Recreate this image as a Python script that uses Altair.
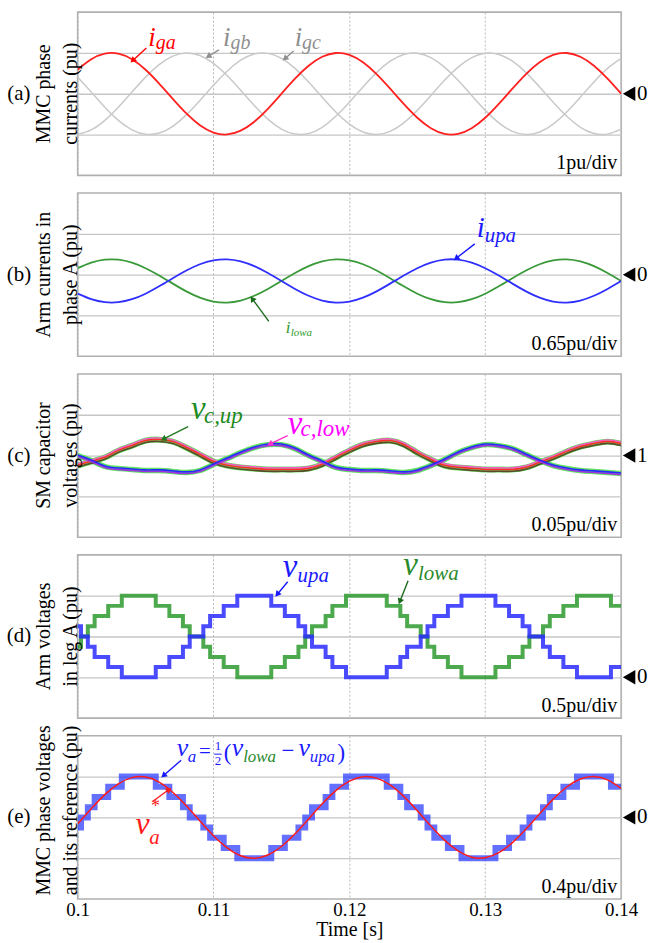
import altair as alt
import pandas as pd

SERIF = "Liberation Serif"
W, H = 546, 164

# sampling instants (s)
t_1ms = [round(0.100 + 0.001 * k, 4) for k in range(41)]
t_05ms = [round(0.100 + 0.0005 * k, 5) for k in range(81)]

# (a) MMC phase currents, pu
i_ga = [0.588, 0.844, 0.982, 0.982, 0.844, 0.588, 0.249, -0.125, -0.482, -0.771, -0.951,
        -0.998, -0.905, -0.685, -0.368, 0.0, 0.368, 0.685, 0.905, 0.998, 0.951, 0.771,
        0.482, 0.125, -0.249, -0.588, -0.844, -0.982, -0.982, -0.844, -0.588, -0.249,
        0.125, 0.482, 0.771, 0.951, 0.998, 0.905, 0.685, 0.368, 0.0]
i_gb = [-0.995, -0.886, -0.653, -0.329, 0.042, 0.407, 0.714, 0.922, 1.0, 0.937, 0.743,
        0.445, 0.084, -0.289, -0.621, -0.866, -0.989, -0.974, -0.821, -0.553, -0.208,
        0.167, 0.518, 0.797, 0.963, 0.995, 0.886, 0.653, 0.329, -0.042, -0.407, -0.714,
        -0.922, -1.0, -0.937, -0.743, -0.445, -0.084, 0.289, 0.621, 0.866]
i_gc = [0.407, 0.042, -0.329, -0.653, -0.886, -0.995, -0.963, -0.797, -0.518, -0.166,
        0.208, 0.553, 0.821, 0.974, 0.989, 0.866, 0.621, 0.289, -0.084, -0.445, -0.743,
        -0.938, -1.0, -0.922, -0.714, -0.407, -0.042, 0.329, 0.653, 0.886, 0.995, 0.963,
        0.797, 0.518, 0.166, -0.208, -0.553, -0.821, -0.974, -0.989, -0.866]

# (b) arm currents in phase A, pu
i_upa = [-0.303, -0.391, -0.439, -0.439, -0.391, -0.303, -0.186, -0.057, 0.066, 0.166,
         0.228, 0.244, 0.212, 0.136, 0.027, -0.100, -0.227, -0.336, -0.412, -0.444,
         -0.428, -0.366, -0.266, -0.143, -0.014, 0.103, 0.191, 0.239, 0.239, 0.191,
         0.103, -0.014, -0.143, -0.266, -0.366, -0.428, -0.444, -0.412, -0.336, -0.227,
         -0.100]
i_lowa = [0.103, 0.191, 0.239, 0.239, 0.191, 0.103, -0.014, -0.143, -0.266, -0.366,
          -0.428, -0.444, -0.412, -0.336, -0.227, -0.100, 0.027, 0.136, 0.212, 0.244,
          0.228, 0.166, 0.066, -0.057, -0.186, -0.303, -0.391, -0.439, -0.439, -0.391,
          -0.303, -0.186, -0.057, 0.066, 0.166, 0.228, 0.244, 0.212, 0.136, 0.027,
          -0.100]

# (c) SM capacitor voltages, pu
vc_up = [0.9878, 0.9927, 0.9976, 1.0061, 1.0122, 1.0183, 1.0195, 1.0171, 1.0098, 1.0012,
         0.9927, 0.9878, 0.9854, 0.9841, 0.9829, 0.9829, 0.9829, 0.9841, 0.9890, 0.9976,
         1.0061, 1.0134, 1.0171, 1.0183, 1.0134, 1.0037, 0.9951, 0.9878, 0.9854, 0.9841,
         0.9829, 0.9829, 0.9829, 0.9854, 0.9915, 0.9976, 1.0049, 1.0110, 1.0146, 1.0171,
         1.0146]
vc_low = [1.0000, 0.9939, 0.9866, 0.9841, 0.9829, 0.9817, 0.9817, 0.9805, 0.9793, 0.9817,
          0.9890, 0.9963, 1.0037, 1.0098, 1.0134, 1.0134, 1.0085, 1.0000, 0.9927, 0.9854,
          0.9829, 0.9817, 0.9817, 0.9805, 0.9793, 0.9817, 0.9878, 0.9951, 1.0037, 1.0098,
          1.0134, 1.0122, 1.0085, 1.0012, 0.9939, 0.9878, 0.9841, 0.9817, 0.9805, 0.9793,
          0.9780]

# (d) arm voltages in leg A, pu (staircase, 0.5 ms samples)
v_upa = [0.625, 0.5, 0.375, 0.25, 0.25, 0.125, 0.125, 0, 0, 0, 0, 0, 0.125, 0.125, 0.25,
         0.25, 0.375, 0.5, 0.5, 0.625, 0.75, 0.75, 0.875, 0.875, 1, 1, 1, 1, 1, 0.875,
         0.875, 0.75, 0.75, 0.625, 0.5, 0.375, 0.375, 0.25, 0.125, 0.125, 0, 0, 0, 0, 0,
         0, 0.125, 0.125, 0.25, 0.375, 0.375, 0.5, 0.625, 0.75, 0.75, 0.875, 0.875, 1, 1,
         1, 1, 1, 0.875, 0.875, 0.75, 0.75, 0.625, 0.5, 0.5, 0.375, 0.25, 0.25, 0.125,
         0.125, 0, 0, 0, 0, 0, 0.125, 0.125]
v_lowa = [0.375, 0.5, 0.625, 0.75, 0.75, 0.875, 0.875, 1, 1, 1, 1, 1, 0.875, 0.875, 0.75,
          0.75, 0.625, 0.5, 0.5, 0.375, 0.25, 0.25, 0.125, 0.125, 0, 0, 0, 0, 0, 0.125,
          0.125, 0.25, 0.25, 0.375, 0.5, 0.625, 0.625, 0.75, 0.875, 0.875, 1, 1, 1, 1, 1,
          1, 0.875, 0.875, 0.75, 0.625, 0.625, 0.5, 0.375, 0.25, 0.25, 0.125, 0.125, 0,
          0, 0, 0, 0, 0.125, 0.125, 0.25, 0.25, 0.375, 0.5, 0.5, 0.625, 0.75, 0.75, 0.875,
          0.875, 1, 1, 1, 1, 1, 0.875, 0.875]

# (e) phase voltage (staircase) and its reference, pu
v_a = [-0.1, 0, 0.1, 0.2, 0.2, 0.3, 0.3, 0.4, 0.4, 0.4, 0.4, 0.4, 0.3, 0.3, 0.2, 0.2, 0.1,
       0, 0, -0.1, -0.2, -0.2, -0.3, -0.3, -0.4, -0.4, -0.4, -0.4, -0.4, -0.3, -0.3, -0.2,
       -0.2, -0.1, 0, 0.1, 0.1, 0.2, 0.3, 0.3, 0.4, 0.4, 0.4, 0.4, 0.4, 0.4, 0.3, 0.3, 0.2,
       0.1, 0.1, 0, -0.1, -0.2, -0.2, -0.3, -0.3, -0.4, -0.4, -0.4, -0.4, -0.4, -0.3, -0.3,
       -0.2, -0.2, -0.1, 0, 0, 0.1, 0.2, 0.2, 0.3, 0.3, 0.4, 0.4, 0.4, 0.4, 0.4, 0.3, 0.3]
v_a_ref = [-0.065, 0.085, 0.223, 0.329, 0.390, 0.395, 0.346, 0.247, 0.114, -0.035, -0.179,
           -0.298, -0.376, -0.400, -0.368, -0.285, -0.161, -0.015, 0.133, 0.263, 0.355,
           0.398, 0.385, 0.318, 0.206, 0.065, -0.085, -0.223, -0.329, -0.390, -0.395,
           -0.346, -0.247, -0.114, 0.035, 0.179, 0.298, 0.376, 0.400, 0.368, 0.285]


def x_enc(show):
    kw = dict(values=[0.1, 0.11, 0.12, 0.13, 0.14], grid=True, gridDash=[2, 2],
              gridColor="#b8b8b8", gridWidth=1, ticks=False, domain=False)
    if show:
        kw.update(labels=True, title="Time [s]", format="~g", labelFont=SERIF,
                  labelFontSize=19, labelColor="black", labelPadding=2,
                  labelFlush=False, labelOverlap=False, titleFont=SERIF,
                  titleFontSize=20, titleFontWeight="normal", titleColor="black",
                  titlePadding=0)
    else:
        kw.update(labels=False, title=None)
    return alt.X("t:Q", scale=alt.Scale(domain=[0.1, 0.14], nice=False, zero=False),
                 axis=alt.Axis(**kw))


def y_enc(domain, grid_values):
    return alt.Y("v:Q", scale=alt.Scale(domain=domain, nice=False, zero=False),
                 axis=alt.Axis(values=grid_values, grid=True, gridColor="#c6c6c6",
                               gridWidth=1.3, ticks=False, domain=False, labels=False,
                               title=None))


def trace(X, Y, times, vals, color, width=1.6, interp="natural", opacity=1.0, yoff=0):
    kw = dict(color=color, strokeWidth=width, interpolate=interp, opacity=opacity,
              clip=True)
    if yoff:
        kw["yOffset"] = yoff
    df = pd.DataFrame({"t": times, "v": vals})
    return alt.Chart(df).mark_line(**kw).encode(x=X, y=Y)


def word(X, Y, t, v, s, color, size, italic=True):
    df = pd.DataFrame({"t": [t], "v": [v], "s": [s]})
    kw = dict(align="left", baseline="alphabetic", font=SERIF, fontSize=size, color=color)
    if italic:
        kw["fontStyle"] = "italic"
    return alt.Chart(df).mark_text(**kw).encode(x=X, y=Y, text="s:N")


def arrow(X, Y, t1, v1, t2, v2, color, angle):
    df = pd.DataFrame({"t": [t1], "v": [v1], "t2": [t2], "v2": [v2]})
    body = alt.Chart(df).mark_rule(color=color, strokeWidth=1.4).encode(
        x=X, y=Y, x2="t2:Q", y2="v2:Q")
    head = alt.Chart(pd.DataFrame({"t": [t2], "v": [v2]})).mark_point(
        shape="triangle", filled=True, color=color, size=45, angle=angle, opacity=1
    ).encode(x=X, y=Y)
    return [body, head]


def frame_texts(Y, tag, title1, title2, mid, marker, scale_text, title_shift=0):
    out = []
    one = pd.DataFrame({"v": [mid]})
    out.append(alt.Chart(one).mark_text(font=SERIF, fontSize=21, align="center",
                                        baseline="middle", color="black").encode(
        x=alt.value(-59), y=Y, text=alt.value(tag)))
    for xpos, txt in ((-34, title1), (-7, title2)):
        out.append(alt.Chart(one).mark_text(font=SERIF, fontSize=20, align="center",
                                            baseline="middle", angle=270,
                                            color="black").encode(
            x=alt.value(xpos), y=alt.value(H / 2 + title_shift), text=alt.value(txt)))
    ref = pd.DataFrame({"v": [marker[0]]})
    out.append(alt.Chart(ref).mark_point(shape="triangle-left", filled=True,
                                         color="black", size=210, opacity=1).encode(
        x=alt.value(W + 8), y=Y))
    out.append(alt.Chart(ref).mark_text(font=SERIF, fontSize=21, align="left",
                                        baseline="middle", color="black").encode(
        x=alt.value(W + 16), y=Y, text=alt.value(marker[1])))
    out.append(alt.Chart(one).mark_text(font=SERIF, fontSize=20, align="right",
                                        baseline="alphabetic", color="black").encode(
        x=alt.value(W - 4), y=alt.value(H - 6), text=alt.value(scale_text)))
    return out


# ---------- (a) phase currents ----------
Xa, Ya = x_enc(False), y_enc([-2, 2], [-1, 0, 1])
GRAY = "#c9c9c9"
LGRAY = "#8f8f8f"
red = "#ff2020"
layers_a = [
    trace(Xa, Ya, t_1ms, i_gb, GRAY, 1.5),
    trace(Xa, Ya, t_1ms, i_gc, GRAY, 1.5),
    trace(Xa, Ya, t_1ms, i_ga, red, 1.8),
    word(Xa, Ya, 0.10520, 1.171, "i", "#ff0000", 27),
    word(Xa, Ya, 0.10575, 1.090, "ga", "#ff0000", 20),
    word(Xa, Ya, 0.11070, 1.171, "i", LGRAY, 27),
    word(Xa, Ya, 0.11125, 1.090, "gb", LGRAY, 20),
    word(Xa, Ya, 0.11597, 1.171, "i", LGRAY, 27),
    word(Xa, Ya, 0.11652, 1.090, "gc", LGRAY, 20),
]
layers_a += arrow(Xa, Ya, 0.10506, 1.122, 0.10410, 0.829, "#ff0000", 227)
layers_a += arrow(Xa, Ya, 0.11040, 1.073, 0.10967, 0.927, LGRAY, 239)
layers_a += arrow(Xa, Ya, 0.11590, 1.049, 0.11531, 0.878, LGRAY, 229)
layers_a += frame_texts(Ya, "(a)", "MMC phase", "currents (pu)", 0, (0, "0"), "1pu/div")
panel_a = alt.layer(*layers_a).properties(width=W, height=H)

# ---------- (b) arm currents ----------
Xb, Yb = x_enc(False), y_enc([-1.3, 1.3], [-0.65, 0, 0.65])
BLUE = "#2f2fff"
GREEN = "#3a9a3a"
layers_b = [
    trace(Xb, Yb, t_1ms, i_lowa, GREEN, 1.8),
    trace(Xb, Yb, t_1ms, i_upa, BLUE, 1.8),
    word(Xb, Yb, 0.12938, 0.602, "i", "#1a1aff", 29),
    word(Xb, Yb, 0.12996, 0.520, "upa", "#1a1aff", 21),
    word(Xb, Yb, 0.11531, -0.935, "i", "#2a9a2a", 17),
    word(Xb, Yb, 0.11568, -0.983, "lowa", "#2a9a2a", 11),
]
layers_b += arrow(Xb, Yb, 0.12923, 0.491, 0.12791, 0.269, "#1a1aff", 232)
layers_b += arrow(Xb, Yb, 0.11407, -0.745, 0.11289, -0.396, "#1a6a1a", 324)
layers_b += frame_texts(Yb, "(b)", "Arm currents in", "phase A (pu)", 0, (0, "0"),
                        "0.65pu/div")
panel_b = alt.layer(*layers_b).properties(width=W, height=H)

# ---------- (c) SM capacitor voltages ----------
Xc, Yc = x_enc(False), y_enc([0.9, 1.1], [0.95, 1.0, 1.05])
HALO = "#4fe04f"
layers_c = [
    trace(Xc, Yc, t_1ms, vc_low, HALO, 5.5, opacity=0.9),
    trace(Xc, Yc, t_1ms, vc_up, HALO, 6, opacity=0.9),
    trace(Xc, Yc, t_1ms, vc_up, "#5a4a2a", 1.6, yoff=1.8),
    trace(Xc, Yc, t_1ms, vc_up, "#ff2a2a", 1.6, yoff=-0.2),
    trace(Xc, Yc, t_1ms, vc_up, "#ff55cc", 1.3, yoff=-1.8),
    trace(Xc, Yc, t_1ms, vc_low, "#a030e0", 1.6, yoff=1.0),
    trace(Xc, Yc, t_1ms, vc_low, "#2828ff", 1.6, yoff=-0.6),
    word(Xc, Yc, 0.10835, 1.0451, "v", "#1e8c1e", 33),
    word(Xc, Yc, 0.10930, 1.0395, "c,up", "#1e8c1e", 23),
    word(Xc, Yc, 0.11546, 1.0268, "v", "#ff00ff", 33),
    word(Xc, Yc, 0.11641, 1.0235, "c,low", "#ff00ff", 23),
]
layers_c += arrow(Xc, Yc, 0.10813, 1.0354, 0.10637, 1.0207, "#1e7a1e", 243)
layers_c += arrow(Xc, Yc, 0.11546, 1.0244, 0.11421, 1.0146, "#ff33cc", 245)
layers_c += frame_texts(Yc, "(c)", "SM capacitor", "voltages (pu)", 1.0, (1.0, "1"),
                        "0.05pu/div")
panel_c = alt.layer(*layers_c).properties(width=W, height=H)

# ---------- (d) arm voltages ----------
Xd, Yd = x_enc(False), y_enc([-0.5, 1.5], [0, 0.5, 1.0])
layers_d = [
    trace(Xd, Yd, t_05ms, v_lowa, "#2e9a2e", 4, interp="step", opacity=0.85),
    trace(Xd, Yd, t_05ms, v_upa, "#2a2aff", 4, interp="step", opacity=0.85),
    word(Xd, Yd, 0.11509, 1.2317, "v", "#1a1aff", 33),
    word(Xd, Yd, 0.11619, 1.1707, "upa", "#1a1aff", 21),
    word(Xd, Yd, 0.12396, 1.256, "v", "#2a8a2a", 33),
    word(Xd, Yd, 0.12505, 1.195, "lowa", "#2a8a2a", 21),
]
layers_d += arrow(Xd, Yd, 0.11546, 1.1707, 0.11473, 1.0244, "#1a1aff", 220)
layers_d += arrow(Xd, Yd, 0.12432, 1.183, 0.12374, 0.939, "#1a6a1a", 202)
layers_d += frame_texts(Yd, "(d)", "Arm voltages", "in leg A (pu)", 0.5, (0, "0"),
                        "0.5pu/div")
panel_d = alt.layer(*layers_d).properties(width=W, height=H)

# ---------- (e) phase voltage and reference ----------
Xe, Ye = x_enc(True), y_enc([-0.8, 0.8], [-0.4, 0, 0.4])
EB = "#1a1aff"
layers_e = [
    trace(Xe, Ye, t_05ms, v_a, "#2233ff", 6, interp="step", opacity=0.7),
    trace(Xe, Ye, t_1ms, v_a_ref, "#ff1a1a", 1.5),
    word(Xe, Ye, 0.10730, 0.600, "v", EB, 26),
    word(Xe, Ye, 0.10810, 0.541, "a", EB, 17),
    word(Xe, Ye, 0.10893, 0.580, "=", EB, 21, italic=False),
    word(Xe, Ye, 0.11010, 0.663, "1", EB, 13, italic=False),
    word(Xe, Ye, 0.11010, 0.517, "2", EB, 13, italic=False),
    word(Xe, Ye, 0.11075, 0.561, "(", EB, 23, italic=False),
    word(Xe, Ye, 0.11135, 0.600, "v", EB, 26),
    word(Xe, Ye, 0.11218, 0.541, "lowa", "#2a8a2a", 17),
    word(Xe, Ye, 0.11500, 0.580, "\u2212", EB, 23, italic=False),
    word(Xe, Ye, 0.11625, 0.600, "v", EB, 26),
    word(Xe, Ye, 0.11708, 0.541, "upa", EB, 17),
    word(Xe, Ye, 0.11912, 0.561, ")", EB, 23, italic=False),
    word(Xe, Ye, 0.10425, -0.161, "v", "#ff1a1a", 32),
    word(Xe, Ye, 0.10540, 0.050, "*", "#ff1a1a", 18, italic=False),
    word(Xe, Ye, 0.10527, -0.259, "a", "#ff1a1a", 21),
]
frac = pd.DataFrame({"t": [0.11005], "v": [0.620], "t2": [0.11060]})
layers_e.append(alt.Chart(frac).mark_rule(color=EB, strokeWidth=1).encode(
    x=Xe, y=Ye, x2="t2:Q"))
layers_e += arrow(Xe, Ye, 0.10762, 0.561, 0.10637, 0.415, EB, 229)
layers_e += arrow(Xe, Ye, 0.10557, 0.161, 0.10667, 0.268, "#ff1a1a", 54)
layers_e += frame_texts(Ye, "(e)", "MMC phase voltages", "and its reference (pu)", 0,
                        (0, "0"), "0.4pu/div", title_shift=-7)
panel_e = alt.layer(*layers_e).properties(width=W, height=H)

chart = alt.vconcat(panel_a, panel_b, panel_c, panel_d, panel_e,
                    spacing=17.75, bounds="flush").properties(
    padding={"left": 5, "top": 9, "right": 0, "bottom": 0},
    background="white",
).configure_view(stroke="#b0b0b0", strokeWidth=1.6)

chart.save("out.html", embed_options={"renderer": "svg", "actions": False})
